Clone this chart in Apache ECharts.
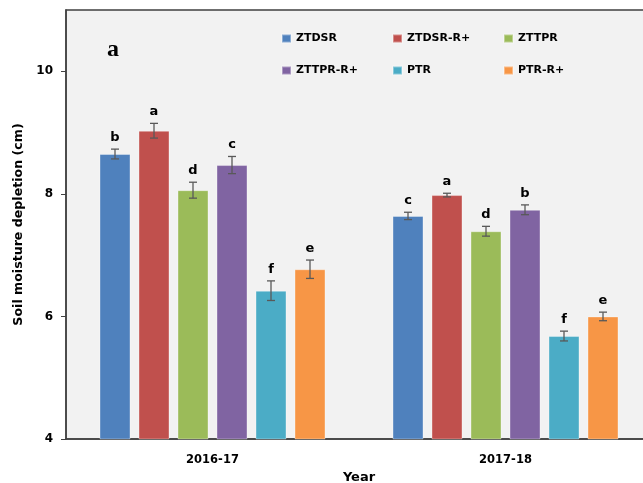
<!DOCTYPE html>
<html>
<head>
<meta charset="utf-8">
<script src="https://cdn.jsdelivr.net/npm/echarts@6/dist/echarts.min.js"></script>
<style>
  html, body { margin: 0; padding: 0; background: #fff; }
  #chart { width: 643px; height: 483px; }
</style>
</head>
<body>
<div id="chart"></div>
<script>
const years = ['2016-17', '2017-18'];
const treatments = ['ZTDSR', 'ZTDSR-R+', 'ZTTPR', 'ZTTPR-R+', 'PTR', 'PTR-R+'];
const depletion2016 = [8.65, 9.03, 8.06, 8.47, 6.42, 6.77];
const depletion2017 = [7.64, 7.98, 7.39, 7.74, 5.68, 6.00];
const error2016 = [0.08, 0.12, 0.13, 0.14, 0.16, 0.15];
const error2017 = [0.06, 0.03, 0.08, 0.08, 0.08, 0.07];
const letters2016 = ['b', 'a', 'd', 'c', 'f', 'e'];
const letters2017 = ['c', 'a', 'd', 'b', 'f', 'e'];
const yTicks = [4, 6, 8, 10];

const colors = ['#4F81BD', '#C0504D', '#9BBB59', '#8064A2', '#4BACC6', '#F79646'];
const barW = 31;
const barGapPx = 8;
const fontFam = 'DejaVu Sans';

const chart = echarts.init(document.getElementById('chart'), null, { renderer: 'canvas' });

const values = [depletion2016, depletion2017];
const errors = [error2016, error2017];
const letters = [letters2016, letters2017];

let barSeries = treatments.map((name, i) => ({
  name: name,
  type: 'bar',
  barWidth: barW,
  barGap: (barGapPx / barW * 100) + '%',
  itemStyle: {
    color: colors[i],
    borderColor: 'rgba(255,255,255,0.35)',
    borderWidth: 1,
  },
  data: years.map((y, k) => values[k][i]),
}));

// error bars + letters
let errData = [];
for (let k = 0; k < years.length; k++) {
  for (let i = 0; i < treatments.length; i++) {
    errData.push([k, values[k][i], errors[k][i], i]);
  }
}

const errSeries = {
  type: 'custom',
  z: 5,
  silent: true,
  encode: { x: 0, y: 1 },
  data: errData,
  renderItem: function (params, api) {
    const cat = api.value(0);
    const v = api.value(1);
    const e = api.value(2);
    const t = api.value(3);
    const c = api.coord([cat, v]);
    const x = c[0] + (t - 2.5) * (barW + barGapPx);
    const hi = api.coord([cat, v + e])[1];
    const lo = api.coord([cat, v - e])[1];
    const st = { stroke: '#595959', lineWidth: 1.3 };
    return {
      type: 'group',
      children: [
        { type: 'line', shape: { x1: x, y1: hi, x2: x, y2: lo }, style: st },
        { type: 'line', shape: { x1: x - 4, y1: hi, x2: x + 4, y2: hi }, style: st },
        { type: 'line', shape: { x1: x - 4, y1: lo, x2: x + 4, y2: lo }, style: st },
        {
          type: 'text',
          x: x,
          y: hi - 5,
          style: {
            text: letters[cat][t],
            fill: '#000',
            font: 'bold 13px ' + fontFam,
            textAlign: 'center',
            textVerticalAlign: 'bottom',
          },
        },
      ],
    };
  },
};

// one legend per item, laid out 3 x 2
const legendLeft = [281, 392, 503];
const legendTop = [33, 65];
const legends = treatments.map((name, i) => ({
  left: legendLeft[i % 3],
  top: legendTop[Math.floor(i / 3)],
  padding: 0,
  itemWidth: 9,
  itemHeight: 8,
  itemGap: 0,
  icon: 'rect',
  data: [name],
  textStyle: {
    fontFamily: fontFam,
    fontWeight: 'bold',
    fontSize: 11,
    color: '#000',
  },
}));

const option = {
  backgroundColor: '#fff',
  animation: false,
  graphic: [
    {
      type: 'text',
      left: 107,
      top: 38,
      style: {
        text: 'a',
        font: 'bold 24px "Liberation Serif"',
        fill: '#000',
      },
    },
  ],
  legend: legends,
  grid: {
    left: 66,
    top: 10,
    width: 586,
    height: 429,
    outerBoundsMode: 'none',
    show: true,
    backgroundColor: '#f2f2f2',
    borderColor: '#404040',
    borderWidth: 1.5,
  },
  xAxis: {
    type: 'category',
    data: years,
    name: 'Year',
    nameLocation: 'middle',
    nameGap: 25,
    nameTextStyle: {
      fontFamily: fontFam,
      fontWeight: 'bold',
      fontSize: 13,
      color: '#000',
    },
    axisLine: { lineStyle: { color: '#404040', width: 1.5 } },
    axisTick: { length: 5, lineStyle: { color: '#404040' } },
    axisLabel: {
      margin: 15,
      fontFamily: fontFam,
      fontWeight: 'bold',
      fontSize: 11.5,
      color: '#000',
    },
  },
  yAxis: {
    type: 'value',
    min: 4,
    max: 11,
    interval: 2,
    name: 'Soil moisture depletion (cm)',
    nameLocation: 'middle',
    nameGap: 34,
    nameTextStyle: {
      fontFamily: fontFam,
      fontWeight: 'bold',
      fontSize: 12.6,
      color: '#000',
    },
    axisLine: { show: true, lineStyle: { color: '#404040', width: 1.5 } },
    axisTick: { show: true, length: 5, customValues: yTicks, lineStyle: { color: '#404040' } },
    splitLine: { show: false },
    axisLabel: {
      margin: 13,
      customValues: yTicks,
      fontFamily: fontFam,
      fontWeight: 'bold',
      fontSize: 12,
      color: '#000',
    },
  },
  series: barSeries.concat([errSeries]),
};

chart.setOption(option);
</script>
</body>
</html>
